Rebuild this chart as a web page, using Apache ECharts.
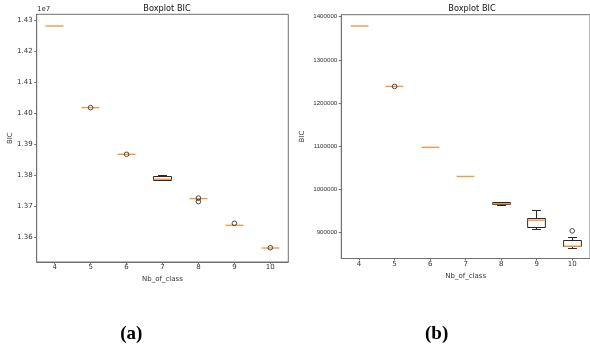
<!DOCTYPE html>
<html><head><meta charset="utf-8">
<script src="https://cdn.jsdelivr.net/npm/echarts@6/dist/echarts.min.js"></script>
<style>html,body{margin:0;padding:0;background:#fff;}#c{width:590px;height:344px;}</style>
</head><body><div id="c"></div>
<script>
// ---- data ----
const categories = ['4', '5', '6', '7', '8', '9', '10'];
// panel (a): [min, Q1, median, Q3, max] per category
const boxesA = [
  [14280600, 14280600, 14280600, 14280600, 14280600],
  [14017400, 14017400, 14017400, 14017400, 14017400],
  [13866800, 13866800, 13866800, 13866800, 13866800],
  [13783200, 13783200, 13786400, 13793900, 13799400],
  [13723900, 13723900, 13723900, 13723900, 13723900],
  [13637700, 13637700, 13637700, 13637700, 13637700],
  [13564500, 13564500, 13564500, 13564500, 13564500]
];
// panel (a) fliers: [category index, value]
const outliersA = [
  [1, 14017400], [2, 13866800], [4, 13725500], [4, 13714200], [5, 13644200], [6, 13565500]
];
// panel (b)
const boxesB = [
  [1378400, 1378400, 1378400, 1378400, 1378400],
  [1238300, 1238300, 1238300, 1238300, 1238300],
  [1097000, 1097000, 1097000, 1097000, 1097000],
  [1029500, 1029500, 1029500, 1029500, 1029500],
  [963000, 964500, 966400, 968200, 968200],
  [906500, 911100, 928100, 932100, 949700],
  [863100, 866200, 867800, 880100, 888600]
];
const outliersB = [[1, 1238300], [6, 903300]];
const ticksA = [13600000, 13700000, 13800000, 13900000, 14000000, 14100000, 14200000, 14300000];
const ticksB = [900000, 1000000, 1100000, 1200000, 1300000, 1400000];

// ---- chart ----
const FONT = "'DejaVu Sans', sans-serif";
const AXC = '#707070';
const TXT = '#333';

function boxData(boxes) {
  return boxes.map((b, i) => [i].concat(b));
}

function snap(v) { return Math.round(v - 0.5) + 0.5; }

function renderBox(params, api) {
  const i = api.value(0);
  const lo = api.coord([i, api.value(1)]);
  const q1 = api.coord([i, api.value(2)]);
  const md = api.coord([i, api.value(3)]);
  const q3 = api.coord([i, api.value(4)]);
  const hi = api.coord([i, api.value(5)]);
  const band = api.size([1, 0])[0];
  const hw = band * 0.25;
  const cw = hw / 2;
  const x = snap(lo[0]);
  const yLo = snap(lo[1]), yQ1 = snap(q1[1]), yQ3 = snap(q3[1]), yHi = snap(hi[1]);
  const black = { stroke: '#2a2a2a', lineWidth: 1, fill: null };
  const children = [];
  if (yHi !== yLo) {
    children.push(
      { type: 'line', shape: { x1: x, y1: yQ3, x2: x, y2: yHi }, style: black },
      { type: 'line', shape: { x1: x, y1: yQ1, x2: x, y2: yLo }, style: black },
      { type: 'line', shape: { x1: x - cw, y1: yHi, x2: x + cw, y2: yHi }, style: black },
      { type: 'line', shape: { x1: x - cw, y1: yLo, x2: x + cw, y2: yLo }, style: black }
    );
  }
  if (yQ1 !== yQ3) {
    children.push({ type: 'rect', shape: { x: x - hw, y: yQ3, width: 2 * hw, height: yQ1 - yQ3 }, style: black });
  }
  children.push({ type: 'line', shape: { x1: x - hw, y1: md[1], x2: x + hw, y2: md[1] },
    style: { stroke: '#f29b45', lineWidth: 1.4 } });
  return { type: 'group', children: children };
}

const chart = echarts.init(document.getElementById('c'), null, { renderer: 'canvas' });

const xAxisBase = {
  type: 'category',
  data: categories,
  boundaryGap: true,
  axisLine: { show: true, lineStyle: { color: AXC, width: 1 } },
  axisTick: { show: true, alignWithLabel: true, length: 2, lineStyle: { color: AXC } },
  axisLabel: { fontSize: 7, color: TXT, fontFamily: FONT, margin: 2 },
  splitLine: { show: false },
  name: 'Nb_of_class',
  nameLocation: 'middle',
  nameGap: 9,
  nameTextStyle: { fontSize: 7, color: TXT, fontFamily: FONT }
};

const flierStyle = { color: 'rgba(0,0,0,0)', borderColor: '#222', borderWidth: 1 };

chart.setOption({
  animation: false,
  backgroundColor: '#fff',
  title: [
    { text: 'Boxplot BIC', left: 162, top: 0, textAlign: 'center',
      textStyle: { fontSize: 8.2, fontWeight: 'normal', color: '#111', fontFamily: FONT } },
    { text: 'Boxplot BIC', left: 467, top: 0, textAlign: 'center',
      textStyle: { fontSize: 8.2, fontWeight: 'normal', color: '#111', fontFamily: FONT } }
  ],
  grid: [
    { left: 36.7, top: 14.3, width: 251.6, height: 247.7, show: true, borderColor: AXC, borderWidth: 1, containLabel: false },
    { left: 341.3, top: 14.7, width: 251.3, height: 243.8, show: true, borderColor: AXC, borderWidth: 1, containLabel: false }
  ],
  xAxis: [
    Object.assign({}, xAxisBase, { gridIndex: 0 }),
    Object.assign({}, xAxisBase, { gridIndex: 1 })
  ],
  yAxis: [
    {
      gridIndex: 0, type: 'value', min: 13519400, max: 14318400,
      axisLine: { show: true, lineStyle: { color: AXC } },
      axisTick: { show: true, length: 2.5, customValues: ticksA, lineStyle: { color: AXC } },
      axisLabel: { fontSize: 7, color: TXT, fontFamily: FONT, margin: 4, customValues: ticksA,
        formatter: v => (v / 1e7).toFixed(2) },
      splitLine: { show: false },
      name: 'BIC', nameLocation: 'middle', nameGap: 20,
      nameTextStyle: { fontSize: 7, color: TXT, fontFamily: FONT }
    },
    {
      gridIndex: 1, type: 'value', min: 839240, max: 1404640,
      axisLine: { show: true, lineStyle: { color: AXC } },
      axisTick: { show: true, length: 2.5, customValues: ticksB, lineStyle: { color: AXC } },
      axisLabel: { fontSize: 6.2, color: TXT, fontFamily: "'Liberation Sans', Arial, sans-serif", margin: 4, customValues: ticksB,
        formatter: v => String(v) },
      splitLine: { show: false },
      name: 'BIC', nameLocation: 'middle', nameGap: 36,
      nameTextStyle: { fontSize: 7, color: TXT, fontFamily: FONT }
    }
  ],
  series: [
    { type: 'custom', xAxisIndex: 0, yAxisIndex: 0, renderItem: renderBox,
      encode: { x: 0, y: [1, 2, 3, 4, 5] }, data: boxData(boxesA), z: 2 },
    { type: 'scatter', xAxisIndex: 0, yAxisIndex: 0, data: outliersA, symbol: 'circle', symbolSize: 4.6,
      itemStyle: flierStyle, z: 3 },
    { type: 'custom', xAxisIndex: 1, yAxisIndex: 1, renderItem: renderBox,
      encode: { x: 0, y: [1, 2, 3, 4, 5] }, data: boxData(boxesB), z: 2 },
    { type: 'scatter', xAxisIndex: 1, yAxisIndex: 1, data: outliersB, symbol: 'circle', symbolSize: 4.6,
      itemStyle: flierStyle, z: 3 }
  ],
  graphic: [
    { type: 'text', left: 37, top: 6, style: { text: '1e7', fontSize: 7, fill: TXT, fontFamily: FONT } },
    { type: 'text', x: 131.3, y: 334.3, style: { text: '(a)', fontSize: 19, fontWeight: 'bold', fill: '#000',
      fontFamily: "'Liberation Serif', 'Times New Roman', serif", align: 'center', verticalAlign: 'middle' } },
    { type: 'text', x: 436.6, y: 334.3, style: { text: '(b)', fontSize: 19, fontWeight: 'bold', fill: '#000',
      fontFamily: "'Liberation Serif', 'Times New Roman', serif", align: 'center', verticalAlign: 'middle' } }
  ]
});
</script></body></html>
